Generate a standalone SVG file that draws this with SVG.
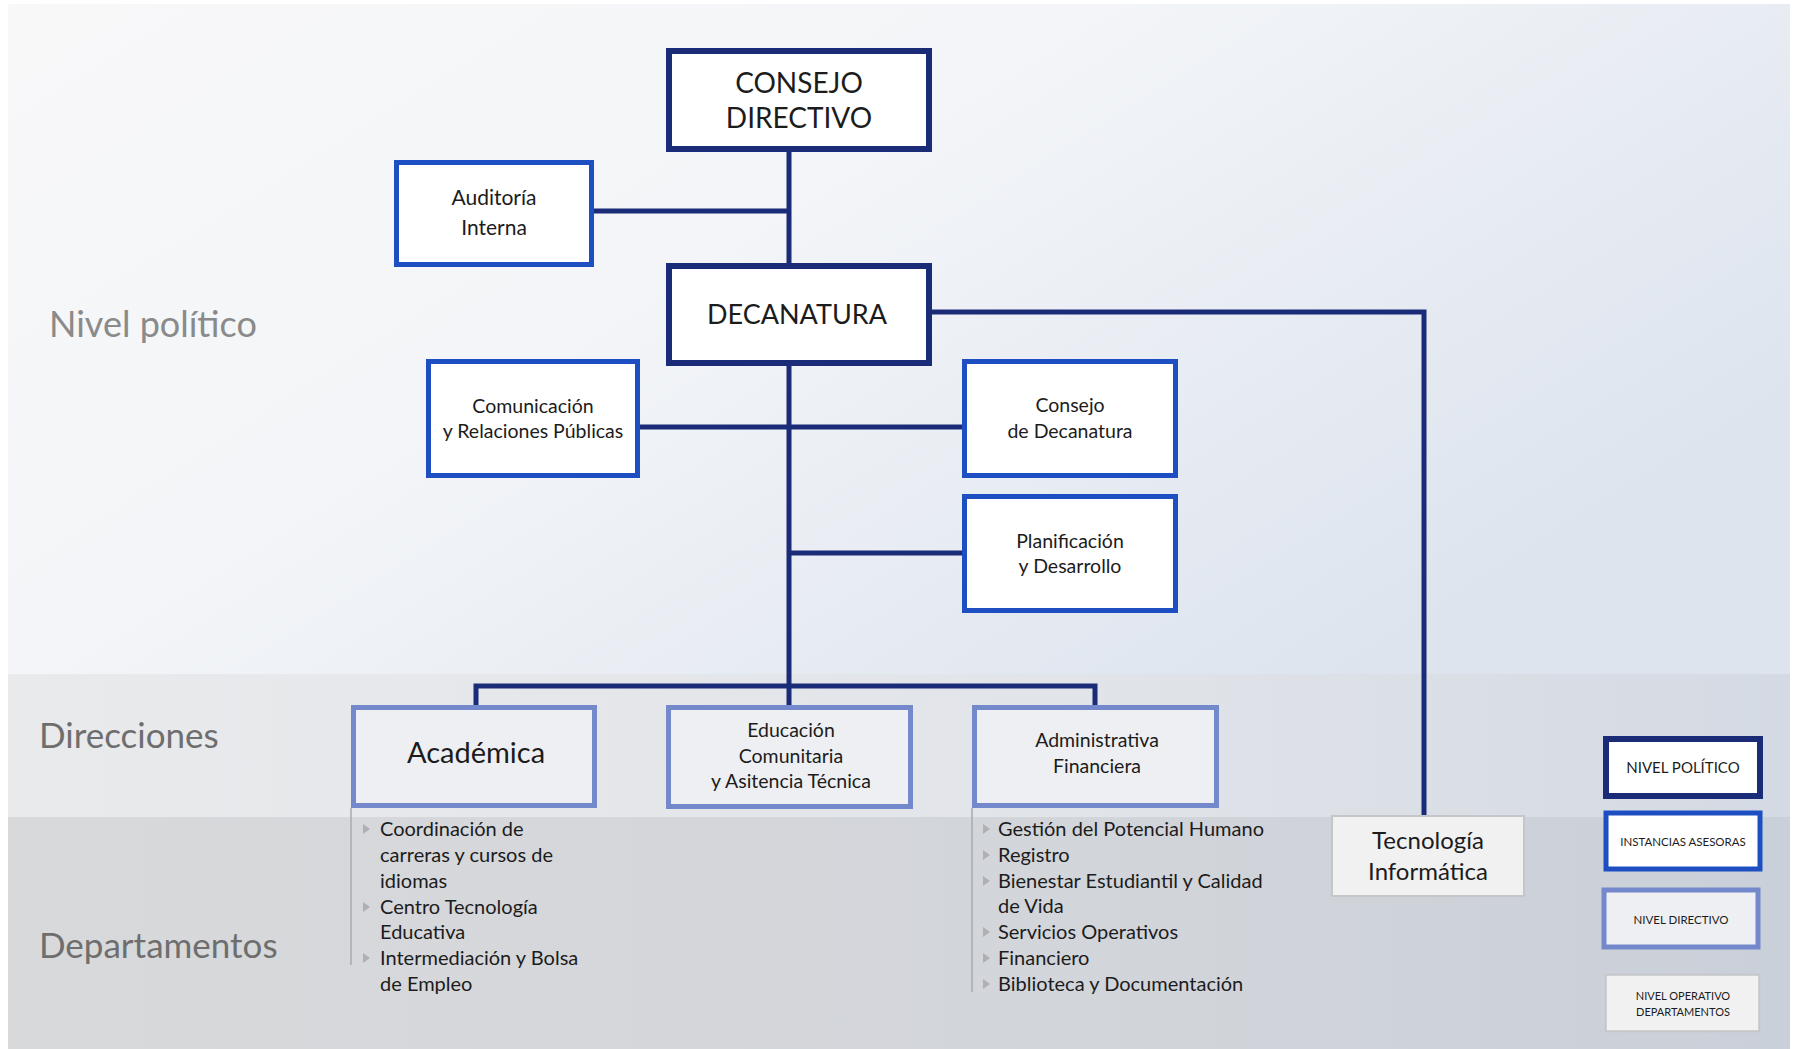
<svg xmlns="http://www.w3.org/2000/svg" width="1800" height="1049" viewBox="0 0 1800 1049">
<defs>
<linearGradient id="gTop" x1="0" y1="0" x2="1" y2="0.6">
<stop offset="0" stop-color="#f8f8f9"/>
<stop offset="0.45" stop-color="#f3f5f8"/>
<stop offset="1" stop-color="#dde4ee"/>
</linearGradient>
<linearGradient id="gDir" x1="0" y1="0" x2="1" y2="0">
<stop offset="0" stop-color="#e9eaec"/>
<stop offset="0.6" stop-color="#e1e4e9"/>
<stop offset="1" stop-color="#d4dae3"/>
</linearGradient>
<linearGradient id="gDep" x1="0" y1="0" x2="1" y2="0">
<stop offset="0" stop-color="#d8d9db"/>
<stop offset="0.6" stop-color="#d2d5da"/>
<stop offset="1" stop-color="#cad0d9"/>
</linearGradient>
<style>
.pol{fill:#ffffff;stroke:#1a2b78;stroke-width:6}
.ase{fill:#ffffff;stroke:#1d4fc2;stroke-width:5}
.dir{fill:#eeeff2;stroke:#7488cc;stroke-width:5}
.ope{fill:#f1f1f2;stroke:#c4c6c9;stroke-width:2}
.conn{fill:none;stroke:#1a2b78;stroke-width:5}
.t{font-family:Lato,"Liberation Sans",sans-serif;fill:#1c1c1c;text-anchor:middle}
.side{font-family:Lato,"Liberation Sans",sans-serif;fill:#6e6e6e}
.li{font-family:Lato,"Liberation Sans",sans-serif;fill:#1c1c1c;font-size:20px}
.bul{fill:#aeb0b3}
.vl{stroke:#a9abae;stroke-width:1.5}
</style>
</defs>
<rect x="0" y="0" width="1800" height="1049" fill="#ffffff"/>
<rect x="8" y="4" width="1782" height="670" fill="url(#gTop)"/>
<rect x="8" y="674" width="1782" height="143" fill="url(#gDir)"/>
<rect x="8" y="817" width="1782" height="232" fill="url(#gDep)"/>

<g id="side-labels">
<text class="side" x="49" y="337" font-size="36" fill="#8a8a8a" style="fill:#8a8a8a">Nivel político</text>
<text class="side" x="39" y="748" font-size="35">Direcciones</text>
<text class="side" x="39" y="958" font-size="35">Departamentos</text>
</g>

<g id="connectors">
<line class="conn" x1="789" y1="150" x2="789" y2="266"/>
<line class="conn" x1="594" y1="211" x2="789" y2="211"/>
<polyline class="conn" points="932,312 1424,312 1424,815" stroke-width="4.5"/>
<line class="conn" x1="789" y1="365" x2="789" y2="706"/>
<line class="conn" x1="639" y1="427" x2="963" y2="427"/>
<line class="conn" x1="789" y1="553" x2="963" y2="553"/>
<polyline class="conn" points="476,706 476,686 1095,686 1095,706"/>
</g>

<g id="consejo-directivo">
<rect class="pol" x="669" y="51" width="260" height="98"/>
<text class="t" x="799" y="93" font-size="28">CONSEJO</text>
<text class="t" x="799" y="128" font-size="28">DIRECTIVO</text>
</g>

<g id="auditoria-interna">
<rect class="ase" x="396.5" y="162.5" width="195" height="102"/>
<text class="t" x="494" y="205" font-size="21">Auditoría</text>
<text class="t" x="494" y="235" font-size="21">Interna</text>
</g>

<g id="decanatura">
<rect class="pol" x="669" y="266" width="260" height="97"/>
<text class="t" x="797" y="324" font-size="27">DECANATURA</text>
</g>

<g id="comunicacion">
<rect class="ase" x="428.5" y="361.5" width="209" height="114"/>
<text class="t" x="533" y="413" font-size="19.5">Comunicación</text>
<text class="t" x="533" y="438" font-size="19.5">y Relaciones Públicas</text>
</g>

<g id="consejo-decanatura">
<rect class="ase" x="964.5" y="361.5" width="211" height="114"/>
<text class="t" x="1070" y="412" font-size="19.5">Consejo</text>
<text class="t" x="1070" y="438" font-size="19.5">de Decanatura</text>
</g>

<g id="planificacion">
<rect class="ase" x="964.5" y="496.5" width="211" height="114"/>
<text class="t" x="1070" y="548" font-size="19.5">Planificación</text>
<text class="t" x="1070" y="573" font-size="19.5">y Desarrollo</text>
</g>

<g id="academica">
<rect class="dir" x="353.5" y="707.5" width="241" height="98"/>
<text class="t" x="476" y="763" font-size="29">Académica</text>
</g>

<g id="educacion-comunitaria">
<rect class="dir" x="668.5" y="707.5" width="242" height="99"/>
<text class="t" x="791" y="737" font-size="19.5">Educación</text>
<text class="t" x="791" y="763" font-size="19.5">Comunitaria</text>
<text class="t" x="791" y="788" font-size="19.5">y Asitencia Técnica</text>
</g>

<g id="administrativa-financiera">
<rect class="dir" x="974.5" y="707.5" width="242" height="98"/>
<text class="t" x="1097" y="747" font-size="19.5">Administrativa</text>
<text class="t" x="1097" y="773" font-size="19.5">Financiera</text>
</g>

<g id="tecnologia-informatica">
<rect class="ope" x="1332" y="816" width="192" height="80"/>
<text class="t" x="1428" y="849" font-size="24">Tecnología</text>
<text class="t" x="1428" y="880" font-size="24">Informática</text>
</g>

<g id="lista-academica">
<line class="vl" x1="351" y1="808" x2="351" y2="965"/>
<polygon class="bul" points="363,824 370,829 363,834"/>
<polygon class="bul" points="363,902 370,907 363,912"/>
<polygon class="bul" points="363,953 370,958 363,963"/>
<text class="li" x="380" y="836">Coordinación de</text>
<text class="li" x="380" y="862">carreras y cursos de</text>
<text class="li" x="380" y="888">idiomas</text>
<text class="li" x="380" y="914">Centro Tecnología</text>
<text class="li" x="380" y="939">Educativa</text>
<text class="li" x="380" y="965">Intermediación y Bolsa</text>
<text class="li" x="380" y="991">de Empleo</text>
</g>

<g id="lista-administrativa">
<line class="vl" x1="972" y1="808" x2="972" y2="992"/>
<polygon class="bul" points="983,824 990,829 983,834"/>
<polygon class="bul" points="983,850 990,855 983,860"/>
<polygon class="bul" points="983,876 990,881 983,886"/>
<polygon class="bul" points="983,927 990,932 983,937"/>
<polygon class="bul" points="983,953 990,958 983,963"/>
<polygon class="bul" points="983,979 990,984 983,989"/>
<text class="li" x="998" y="836">Gestión del Potencial Humano</text>
<text class="li" x="998" y="862">Registro</text>
<text class="li" x="998" y="888">Bienestar Estudiantil y Calidad</text>
<text class="li" x="998" y="913">de Vida</text>
<text class="li" x="998" y="939">Servicios Operativos</text>
<text class="li" x="998" y="965">Financiero</text>
<text class="li" x="998" y="991">Biblioteca y Documentación</text>
</g>

<g id="leyenda-nivel-politico">
<rect class="pol" x="1606" y="739" width="154" height="57" stroke-width="4"/>
<text class="t" x="1683" y="773" font-size="15">NIVEL POLÍTICO</text>
</g>
<g id="leyenda-instancias-asesoras">
<rect class="ase" x="1606" y="813" width="154" height="56" stroke-width="4"/>
<text class="t" x="1683" y="846" font-size="11.5">INSTANCIAS ASESORAS</text>
</g>
<g id="leyenda-nivel-directivo">
<rect class="dir" x="1604" y="890" width="154" height="57" stroke-width="4"/>
<text class="t" x="1681" y="924" font-size="11.5">NIVEL DIRECTIVO</text>
</g>
<g id="leyenda-nivel-operativo">
<rect class="ope" x="1605.75" y="974.75" width="153.5" height="56.5" stroke-width="1.5"/>
<text class="t" x="1683" y="1000" font-size="11">NIVEL OPERATIVO</text>
<text class="t" x="1683" y="1016" font-size="11">DEPARTAMENTOS</text>
</g>
</svg>
